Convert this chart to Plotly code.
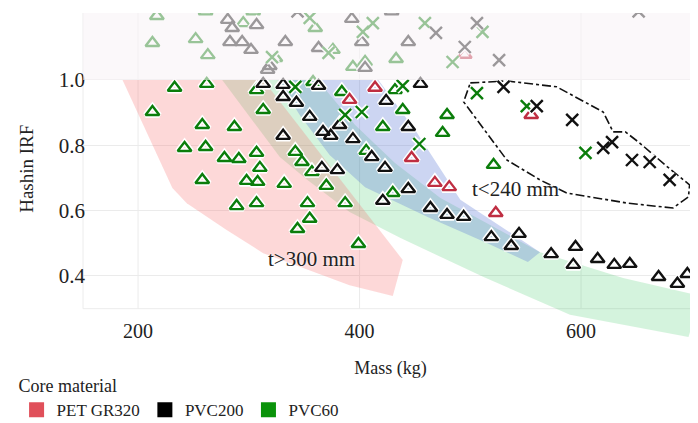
import plotly.graph_objects as go

# ---------------- data ----------------
x_ticks = [200, 400, 600]
y_ticks = [0.4, 0.6, 0.8, 1.0]
y_tick_text = ["0.4", "0.6", "0.8", "1.0"]

# PVC60 core, triangles
pvc60_tri_mass = [213, 233, 262, 258, 287, 242, 261, 278, 291, 307, 310, 258, 298, 308, 307, 313,
                  332, 370, 289, 307, 353, 387, 355, 344, 399, 342, 348, 357, 384, 358, 406, 421,
                  432, 439, 479, 475, 430, 521,
                  217, 261, 295, 213, 252, 263, 324, 360, 376, 394, 405, 433, 304]
pvc60_tri_irf = [0.902, 0.976, 0.988, 0.862, 0.856, 0.792, 0.795, 0.761, 0.758, 0.777, 0.731, 0.694,
                 0.691, 0.688, 0.969, 0.908, 0.682, 0.676, 0.614, 0.623, 0.623, 0.623, 0.575, 0.544,
                 0.498, 0.780, 0.749, 0.718, 0.963, 0.994, 0.783, 0.856, 0.969, 0.908, 0.893, 0.838,
                 0.654, 0.740,
                 1.196, 1.210, 1.174, 1.113, 1.125, 1.076, 1.067, 1.159, 1.092, 1.040, 1.055, 1.064, 1.210]

# PVC200 core, triangles
pvc200_tri_mass = [313, 331, 331, 343, 363, 355, 382, 367, 374, 331, 394, 366, 380, 411, 423, 424,
                   455, 444, 444, 421, 464, 479, 494, 519, 544, 537, 573, 595, 593, 615, 630, 644,
                   670, 687, 696,
                   281, 285, 307, 283, 294, 302, 333, 317, 319, 363, 393, 402, 405, 444, 429]
pvc200_tri_irf = [0.988, 0.985, 0.948, 0.930, 0.982, 0.887, 0.862, 0.841, 0.829, 0.829, 0.819, 0.731,
                  0.724, 0.764, 0.731, 0.936, 0.988, 0.856, 0.666, 0.630, 0.608, 0.587, 0.581, 0.519,
                  0.529, 0.492, 0.467, 0.489, 0.434, 0.452, 0.434, 0.437, 0.397, 0.376, 0.406,
                  1.184, 1.159, 1.168, 1.116, 1.116, 1.092, 1.116, 1.031, 1.043, 1.098, 1.187, 1.116,
                  1.037, 1.116, 1.210]

# PET GR320 core, triangles
pet_tri_mass = [391, 414, 447, 468, 481, 523, 555, 495]
pet_tri_irf = [0.939, 0.976, 0.761, 0.685, 0.672, 0.593, 0.893, 1.077]

# PVC200 core, crosses
pvc200_x_mass = [530, 560, 592, 620, 628, 646, 662, 680, 344, 469, 506, 495, 526, 652]
pvc200_x_irf = [0.979, 0.920, 0.878, 0.792, 0.810, 0.755, 0.749, 0.694, 1.210, 1.144, 1.174, 1.101,
                1.061, 1.210]

# PVC60 core, crosses
pvc60_x_mass = [342, 387, 402, 439, 454, 506, 551, 604, 321, 355, 372, 403, 412, 459, 511, 484]
pvc60_x_irf = [0.979, 0.893, 0.902, 0.982, 0.804, 0.960, 0.920, 0.777, 1.070, 1.190, 1.083, 1.147,
               1.174, 1.174, 1.147, 1.055]

# thickness bands (outline vertices)
band_thick_mass = [186, 313, 439, 430, 391, 313, 280, 244, 231]
band_thick_irf = [1.0, 1.0, 0.449, 0.339, 0.372, 0.470, 0.541, 0.623, 0.669]

band_pvc60_mass = [276, 362, 396, 432, 473, 518, 563, 638, 708, 697, 590, 512, 437, 391, 353, 328, 301]
band_pvc60_irf = [1.0, 1.0, 0.862, 0.746, 0.639, 0.556, 0.473, 0.394, 0.339, 0.213, 0.281, 0.397,
                  0.516, 0.596, 0.694, 0.764, 0.887]

band_thin_mass = [326, 417, 452, 491, 563, 552, 515, 461, 405, 373, 346]
band_thin_irf = [1.0, 1.0, 0.838, 0.633, 0.473, 0.443, 0.501, 0.581, 0.672, 0.770, 0.893]

# dash-dot outline around the cross cluster
cluster_mass = [500, 533, 578, 620, 629, 640, 653, 678, 698, 697, 683, 642, 587, 563, 533, 494]
cluster_irf = [0.991, 0.997, 0.979, 0.902, 0.841, 0.841, 0.807, 0.734, 0.679, 0.642, 0.608, 0.623,
               0.654, 0.694, 0.755, 0.933]

legend_names = ["PET GR320", "PVC200", "PVC60"]
legend_colors = ["#e0505a", "#000000", "#0a930a"]

# ---------------- style ----------------
FONT = "Liberation Serif"
GREEN = "#0b7d0b"
BLACK = "#111111"
RED = "#bf2e42"
x_range = [150.3, 705.6]
y_range = [0.1796, 1.205]
panel_bottom = 0.30

fig = go.Figure()

# bands
for mx, my, col in [
    (band_pvc60_mass, band_pvc60_irf, "rgba(0,186,56,0.17)"),
    (band_thick_mass, band_thick_irf, "rgba(248,110,110,0.27)"),
    (band_thin_mass, band_thin_irf, "rgba(95,125,215,0.32)"),
]:
    fig.add_trace(go.Scatter(x=mx + mx[:1], y=my + my[:1], mode="lines", fill="toself",
                             fillcolor=col, line=dict(width=0), hoverinfo="skip",
                             showlegend=False))

fig.add_trace(go.Scatter(x=cluster_mass + cluster_mass[:1], y=cluster_irf + cluster_irf[:1],
                         mode="lines", line=dict(color="#111111", width=1.6, dash="dashdot"),
                         hoverinfo="skip", showlegend=False))

groups = [
    (pvc60_tri_mass, pvc60_tri_irf, "triangle-up-open", GREEN, 12),
    (pvc200_tri_mass, pvc200_tri_irf, "triangle-up-open", BLACK, 12),
    (pet_tri_mass, pet_tri_irf, "triangle-up-open", RED, 12),
    (pvc60_x_mass, pvc60_x_irf, "x-thin-open", GREEN, 12),
    (pvc200_x_mass, pvc200_x_irf, "x-thin-open", BLACK, 12),
]
for mx, my, sym, col, sz in groups:
    fig.add_trace(go.Scatter(x=mx, y=my, mode="markers",
                             marker=dict(symbol=sym, size=sz, color="white",
                                         line=dict(color="white", width=5.5)),
                             hoverinfo="skip", showlegend=False))
    fig.add_trace(go.Scatter(x=mx, y=my, mode="markers",
                             marker=dict(symbol=sym, size=sz, color=col,
                                         line=dict(color=col, width=2.4)),
                             showlegend=False))

for name, col in zip(legend_names, legend_colors):
    fig.add_trace(go.Scatter(x=[None], y=[None], mode="markers", name=name,
                             marker=dict(symbol="square", size=15, color=col,
                                         line=dict(width=0))))

shapes = []
for t in x_ticks:
    shapes.append(dict(type="line", xref="x", yref="y", x0=t, x1=t, y0=panel_bottom, y1=1.3,
                       line=dict(color="#ebebeb", width=1), layer="below"))
shapes.append(dict(type="rect", xref="x domain", yref="y", x0=0, x1=1, y0=panel_bottom, y1=1.3,
                   line=dict(color="#ececec", width=1), fillcolor="rgba(0,0,0,0)", layer="below"))
shapes.append(dict(type="rect", xref="x domain", yref="y", x0=0, x1=1, y0=1.0, y1=1.3,
                   line=dict(width=0), fillcolor="rgba(249,244,246,0.6)", layer="above"))

annotations = [
    dict(text="t&gt;300 mm", x=357, y=0.452, xref="x", yref="y", showarrow=False,
         font=dict(family=FONT, size=21, color="#222", shadow="0px 0px 3px white")),
    dict(text="t&lt;240 mm", x=541, y=0.666, xref="x", yref="y", showarrow=False,
         font=dict(family=FONT, size=21, color="#222", shadow="0px 0px 3px white")),
    dict(text="Hashin IRF", textangle=-90, x=-0.091, y=0.535, xref="paper", yref="paper",
         xanchor="center", yanchor="middle",
         showarrow=False, font=dict(family=FONT, size=19, color="#222")),
]

# the page body adds an 8 px margin, so the margins are shifted by 8 px
fig.update_layout(
    width=690, height=423,
    margin=dict(l=75, r=0, t=5, b=83, autoexpand=False),
    paper_bgcolor="white", plot_bgcolor="white",
    font=dict(family=FONT, size=18, color="#222"),
    shapes=shapes, annotations=annotations,
    xaxis=dict(range=x_range, tickvals=x_ticks, showgrid=False, zeroline=False, showline=False,
               anchor="free", position=0.1194, ticks="outside", ticklen=5,
               tickcolor="rgba(0,0,0,0)", tickfont=dict(family=FONT, size=20, color="#222"),
               title=dict(text="Mass (kg)", standoff=20, font=dict(family=FONT, size=18))),
    yaxis=dict(range=y_range, tickvals=y_ticks, ticktext=y_tick_text, showgrid=True,
               gridcolor="#ebebeb", gridwidth=1, zeroline=False, showline=False,
               ticks="", ticklabelstandoff=-3,
               tickfont=dict(family=FONT, size=21, color="#222")),
    legend=dict(orientation="h", x=-0.108, xanchor="left", y=-0.062, yanchor="top",
                title=dict(text="Core material", side="top", font=dict(family=FONT, size=18)),
                font=dict(family=FONT, size=17), itemwidth=30, bgcolor="rgba(0,0,0,0)"),
)

fig.write_html("out.html")
